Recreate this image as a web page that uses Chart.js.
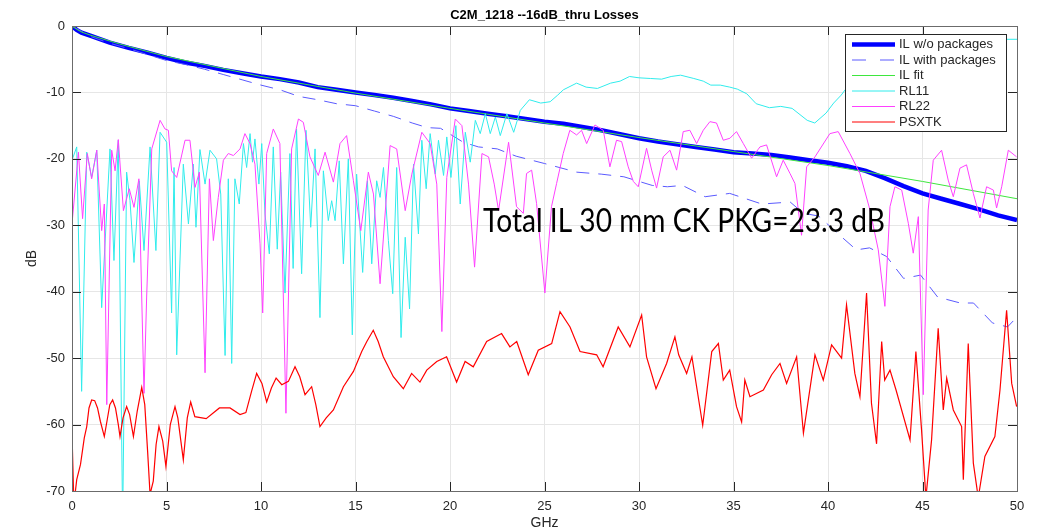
<!DOCTYPE html>
<html lang="en">
<head>
<meta charset="UTF-8">
<title>C2M_1218 --16dB_thru Losses</title>
<script src="https://cdn.jsdelivr.net/npm/chart.js"></script>
<style>
    html, body { margin: 0; padding: 0; background: #fff; }
    .chart-container { width: 1043px; height: 531px; position: relative; }
</style>
</head>
<body>
<div class="chart-container">
    <canvas id="lossChart"></canvas>
</div>
<script>
// ---- data (GHz / dB) ----
const xTickValues = [0, 5, 10, 15, 20, 25, 30, 35, 40, 45, 50];
const yTickValues = [0, -10, -20, -30, -40, -50, -60, -70];

const ilNoPkgGHz = [0, 0.25, 0.5, 1, 2, 3, 4, 5, 6, 7, 8, 9, 10, 11, 12, 13, 14, 15, 16, 17, 18, 19, 20, 21, 22, 23, 24, 25,
    26, 27, 28, 29, 30, 31, 32, 33, 34, 35, 36, 37, 38, 39, 40, 41, 42, 43, 44, 45, 46, 47, 48, 49, 50];
const ilNoPkgDB = [0, -0.6, -1.0, -1.5, -2.5, -3.3, -4.0, -4.8, -5.5, -6.0, -6.6, -7.1, -7.6, -8.0, -8.5, -9.2, -9.6, -10.0,
    -10.4, -10.8, -11.3, -11.8, -12.4, -12.8, -13.2, -13.6, -14.0, -14.4, -14.7, -15.2, -15.7, -16.3, -16.9, -17.4,
    -17.8, -18.2, -18.6, -19.0, -19.2, -19.4, -19.8, -20.2, -20.6, -21.1, -21.8, -22.9, -24.1, -25.2, -26.0, -26.8,
    -27.6, -28.5, -29.2];

const ilPkgGHz = [0, 1, 2, 3, 4, 5, 6, 7, 8, 9, 10, 11, 12, 13, 14, 15, 16, 17, 18, 18.8, 19.5, 20.7, 21.5, 22.5,
    23.5, 25, 26.7, 28, 29.2, 30.7, 31.5, 32.3, 33.5, 34.8, 36.5, 38, 38.7, 39.5, 40.5, 41.5, 42.2, 43.1, 44, 44.9,
    45.8, 47, 47.7, 48.7, 49.5, 50];
const ilPkgDB = [0, -1.6, -2.6, -3.4, -4.3, -5.2, -5.8, -6.5, -7.3, -8.1, -8.9, -9.6, -10.6, -11.1, -11.7, -12.0,
    -12.8, -13.6, -14.6, -15.3, -15.4, -17.5, -18.2, -18.5, -19.6, -20.7, -22.0, -22.3, -22.7, -24.0, -24.2, -24.0,
    -25.7, -25.2, -26.8, -26.5, -28.2, -28.6, -31.2, -33.7, -33.4, -34.7, -38.0, -37.5, -40.8, -41.7, -41.7, -44.7,
    -45.3, -43.8];

const ilFitGHz = [0, 0.25, 0.5, 1, 2.5, 5, 10, 15, 20, 25, 30, 35, 40, 45, 50];
const ilFitDB = [0, -0.5, -0.9, -1.4, -2.7, -4.6, -7.6, -10.1, -12.4, -14.6, -16.8, -18.9, -21.0, -23.4, -26.0];

const rl11GHz = [0, 0.25, 0.51, 0.78, 1.04, 1.31, 1.57, 2.01, 2.22, 2.45, 2.68, 2.89, 3.07, 3.28, 3.56, 3.81, 4.13,
    4.44, 4.66, 5.01, 5.27, 5.4, 5.54, 5.89, 6.16, 6.42, 6.56, 6.77, 7.04, 7.3, 7.65, 7.87, 8.1, 8.27, 8.45, 8.62,
    8.85, 9.07, 9.24, 9.42, 9.55, 9.68, 9.89, 10.04, 10.21, 10.44, 10.65, 10.86, 11.04, 11.27, 11.53, 11.7, 11.88,
    12.15, 12.38, 12.63, 12.86, 13.12, 13.3, 13.56, 13.74, 13.92, 14.14, 14.36, 14.62, 14.83, 15.06, 15.38, 15.63,
    15.86, 16.12, 16.3, 16.48, 16.74, 16.97, 17.18, 17.41, 17.63, 17.86, 18.07, 18.33, 18.51, 18.74, 18.95, 19.22,
    19.39, 19.66, 19.83, 20.05, 20.31, 20.54, 20.81, 21.07, 21.34, 21.6, 21.87, 22.13, 22.4, 22.66, 23.01, 23.37,
    23.72, 24.2, 24.8, 25.3, 25.7, 26.0, 26.7, 27.2, 27.8, 28.5, 29.0, 29.5, 30.0, 30.6, 31.2, 31.7, 32.2, 32.9,
    33.4, 33.8, 34.3, 34.8, 35.2, 35.7, 36.2, 36.9, 37.5, 38.1, 38.9, 39.3, 39.9, 40.3, 40.7, 41.2, 42, 43, 44, 46,
    48, 50];
const rl11DB = [-20.2, -18.2, -55, -19, -22.8, -18.7, -42.4, -18.5, -35.3, -17.2, -75, -22, -26.3, -35.6, -23.3,
    -33.8, -18.2, -33.8, -16, -17.5, -43.2, -21.3, -49.5, -20.8, -29.8, -20.8, -30.3, -18.6, -23.8, -18.7, -20,
    -25.3, -49.6, -23, -50.8, -23, -26.8, -17.7, -21.3, -16.2, -20.5, -17, -23.8, -17.7, -28.3, -34.3, -18.2, -33.6,
    -22, -40.2, -19.2, -36.5, -15.5, -37.3, -15.7, -30.3, -18.5, -43.9, -21.8, -29.3, -26.3, -29.3, -20.3, -35.8,
    -20, -46.5, -22.3, -37.1, -23.3, -35.8, -23.3, -25.8, -21.3, -32.3, -40.3, -21.3, -46.9, -31.8, -42.6, -20.8,
    -31.3, -17.2, -24.5, -16.2, -22.3, -17.2, -22.5, -16.7, -22.8, -15, -26.8, -16, -20.5, -14.2, -16.2, -13.2,
    -16.2, -13.7, -16.5, -13.2, -16, -12.7, -11.1, -11.6, -11.4, -10.4, -9.6, -8.6, -9.2, -9.4, -8.6, -8.3, -7.6,
    -7.8, -7.9, -8.0, -7.6, -7.4, -7.9, -8.3, -8.9, -8.9, -9.2, -9.5, -10.2, -11.7, -12.3, -12.1, -12.4, -14.2,
    -14.6, -13.1, -11.6, -10.4, -8.5, -5.5, -3.5, -2.5, -2.1, -2.0, -2.0];

const rl22GHz = [0, 0.34, 0.56, 0.81, 1.04, 1.31, 1.57, 1.71, 1.84, 2.1, 2.28, 2.45, 2.72, 3.03, 3.28, 3.54, 3.81,
    3.95, 4.22, 4.66, 4.92, 5.1, 5.27, 5.54, 5.98, 6.24, 6.51, 6.74, 7.04, 7.27, 7.48, 7.74, 8.01, 8.27, 8.54, 8.89,
    9.15, 9.42, 9.68, 9.95, 10.09, 10.3, 10.65, 11.0, 11.32, 11.62, 11.98, 12.24, 12.59, 13.03, 13.39, 13.83, 14.18,
    14.53, 14.89, 15.28, 15.68, 15.95, 16.3, 16.83, 17.18, 17.63, 17.98, 18.51, 18.95, 19.3, 19.57, 19.83, 20.28,
    20.63, 20.98, 21.3, 21.69, 22.04, 22.34, 22.57, 23.1, 23.52, 23.88, 24.05, 24.32, 24.58, 25.02, 25.37, 25.64,
    25.99, 26.34, 26.7, 26.96, 27.23, 27.67, 28.11, 28.46, 28.81, 29.08, 29.43, 29.7, 29.96, 30.4, 30.67, 30.93,
    31.28, 31.64, 31.99, 32.34, 32.69, 33.05, 33.4, 33.75, 34.1, 34.46, 34.81, 35.16, 35.52, 35.96, 36.4, 36.75,
    37.28, 37.63, 37.99, 38.25, 38.6, 38.87, 39.31, 40.1, 40.54, 41.16, 41.69, 42.22, 42.66, 43.01, 43.28, 43.54,
    43.9, 44.25, 44.51, 44.78, 45.04, 45.3, 45.57, 46.01, 46.36, 46.63, 46.98, 47.33, 47.69, 48.04, 48.39, 48.75,
    48.92, 49.19, 49.54, 49.98];
const rl22DB = [-29.8, -19, -29, -19.2, -23, -18.7, -30.8, -26.8, -57, -18.7, -21.8, -17.1, -27.8, -24.5, -27.3,
    -23, -55.3, -40.8, -18.5, -14.2, -15.5, -15.7, -21.8, -22.8, -17.2, -17.2, -24.3, -22, -52.2, -23, -32.3, -25.8,
    -20.2, -19.2, -19.5, -18.5, -16.2, -17.7, -20.8, -32.8, -43.2, -19.2, -15.5, -17.7, -58.3, -18.5, -14, -14.5,
    -19.7, -22.5, -19, -23.5, -17.7, -16.5, -23.3, -30.8, -22, -25.3, -38.8, -18, -18.5, -27.8, -22.3, -16, -17.7,
    -23.8, -46, -22.8, -14, -15, -23.8, -36.3, -19.2, -19.7, -23.8, -27.8, -17.5, -27.2, -28.2, -22.2, -21.7, -26.7,
    -40.2, -27.2, -23.7, -19.2, -15.7, -16.4, -15.7, -17.7, -14.9, -15.7, -21.2, -17.2, -17.4, -21.2, -23.4, -24.2,
    -18.4, -21.7, -24.4, -19.7, -18.7, -21.7, -15.9, -15.7, -17.7, -15.7, -14.4, -14.6, -17.2, -16.9, -15.9, -17.7,
    -19.9, -18.2, -17.9, -22.7, -20.2, -22.2, -23.7, -31.5, -21.2, -19.7, -16.2, -15.9, -19.2, -22.2, -27.7, -33.7,
    -42.2, -27.2, -24.2, -24.7, -29.7, -34.2, -28.7, -55.5, -27.7, -20.2, -18.7, -23.2, -25.7, -21.4, -20.9, -25.2,
    -28.9, -24.2, -24.7, -27.4, -24.2, -18.7, -19.7];

const psxtkGHz = [0, 0.1, 0.25, 0.45, 0.65, 0.78, 0.9, 1.04, 1.2, 1.35, 1.5, 1.71, 1.85, 2.0, 2.15, 2.3, 2.45, 2.54,
    2.7, 2.89, 3.05, 3.25, 3.45, 3.69, 3.85, 4.0, 4.13, 4.3, 4.45, 4.6, 4.8, 4.97, 5.2, 5.45, 5.6, 5.89, 6.1, 6.28,
    6.5, 7.1, 7.8, 8.36, 8.89, 9.2, 9.5, 9.77, 10.05, 10.3, 10.55, 10.8, 11.1, 11.45, 11.8, 12.05, 12.33, 12.68,
    12.9, 13.12, 13.45, 13.83, 14.36, 14.89, 15.33, 15.6, 15.94, 16.2, 16.47, 17.0, 17.53, 17.97, 18.41, 18.77,
    19.3, 19.82, 20.35, 20.8, 21.23, 21.94, 22.73, 23.17, 23.53, 24.14, 24.67, 25.38, 25.82, 26.35, 26.88, 27.76,
    28.1, 28.9, 29.52, 30.14, 30.4, 30.9, 31.46, 31.9, 32.1, 32.52, 32.8, 33.37, 33.85, 34.2, 34.46, 34.8, 35.16,
    35.43, 35.6, 35.87, 36.58, 37.02, 37.46, 37.81, 38.34, 38.7, 39.31, 39.75, 40.19, 40.72, 40.98, 41.42, 41.69,
    42.04, 42.3, 42.57, 42.84, 43.0, 43.28, 43.6, 44.34, 44.65, 44.95, 45.18, 45.48, 45.83, 46.1, 46.28, 46.63,
    47.07, 47.16, 47.42, 47.69, 47.95, 48.3, 48.83, 49.1, 49.45, 49.72, 49.98];
const psxtkDB = [-61.3, -72, -68.3, -66, -62, -60.3, -57.5, -56.3, -56.4, -57.5, -59.5, -61.8, -59.5, -57, -56.3,
    -57.5, -60, -61.8, -59, -57.3, -58.5, -61.8, -58, -54.4, -57, -64, -70.5, -68.5, -63, -60.3, -62.5, -66.3, -60,
    -57.3, -59, -65.3, -59, -56.6, -58.8, -59.1, -57.5, -57.5, -58.5, -58.2, -55, -52.3, -53.8, -56.6, -54.5, -53,
    -54, -53.5, -51.3, -52.8, -55.5, -54.3, -57, -60.3, -59, -57.8, -54.3, -52, -49, -47.5, -45.8, -47.5, -49.8,
    -52.8, -54.6, -52.3, -53.6, -51.8, -50.5, -49.8, -53.6, -50.5, -51.3, -47.5, -46.3, -48.3, -47.5, -52.5, -48.8,
    -47.8, -43, -45.3, -49, -49.5, -51.3, -45.3, -48.3, -43.5, -49.8, -54.6, -50.8, -46.8, -49.5, -52.3, -49.8,
    -60.1, -49, -47.8, -53.3, -51.8, -57.3, -59.6, -53.3, -55.8, -54.8, -52.5, -50.8, -53.8, -49.8, -61.3, -49.5,
    -53.3, -48, -50, -42, -52.3, -55.8, -40.2, -56.8, -62.9, -47.5, -53.3, -51.8, -54.8, -62.3, -49, -60.8, -71,
    -62.3, -45.5, -57.8, -53, -57.8, -60.3, -68.3, -47.8, -65.8, -71, -64.8, -61.8, -54.8, -42.8, -53.8, -57.3];

const seriesNames = ['IL w/o packages', 'IL with packages', 'IL fit', 'RL11', 'RL22', 'PSXTK'];
const titleText = 'C2M_1218 --16dB_thru Losses';
const noteText = 'Total IL 30 mm CK PKG=23.3 dB';

function pairs(xs, ys) {
    return xs.map((x, i) => ({ x: x, y: ys[i] }));
}

const axisColor = '#262626';
const gridColor = '#e6e6e6';

const seriesStyles = [
    { color: '#0000ff', width: 4.5, dash: [] },
    { color: '#5a5aff', width: 1, dash: [13, 9] },
    { color: '#3ee63e', width: 1, dash: [] },
    { color: '#30ecec', width: 1, dash: [] },
    { color: '#ff40ff', width: 1, dash: [] },
    { color: '#ff0000', width: 1.2, dash: [] }
];

const seriesData = [
    pairs(ilNoPkgGHz, ilNoPkgDB),
    pairs(ilPkgGHz, ilPkgDB),
    pairs(ilFitGHz, ilFitDB),
    pairs(rl11GHz, rl11DB),
    pairs(rl22GHz, rl22DB),
    pairs(psxtkGHz, psxtkDB)
];

// matlab-ish frame, labels, note and legend drawn on the canvas
const matlabFrame = {
    id: 'matlabFrame',
    afterDatasetsDraw(chart) {
        const ctx = chart.ctx;
        const a = chart.chartArea;
        const xs = chart.scales.x, ys = chart.scales.y;
        ctx.save();
        ctx.strokeStyle = axisColor;
        ctx.lineWidth = 1;
        ctx.beginPath();
        xTickValues.forEach(v => {
            const px = Math.round(xs.getPixelForValue(v)) + 0.5;
            ctx.moveTo(px, a.bottom); ctx.lineTo(px, a.bottom - 9);
            ctx.moveTo(px, a.top); ctx.lineTo(px, a.top + 9);
        });
        yTickValues.forEach(v => {
            const py = Math.round(ys.getPixelForValue(v)) + 0.5;
            ctx.moveTo(a.left, py); ctx.lineTo(a.left + 9, py);
            ctx.moveTo(a.right, py); ctx.lineTo(a.right - 9, py);
        });
        ctx.stroke();
        ctx.strokeStyle = '#6b6b6b';
        ctx.strokeRect(Math.round(a.left) + 0.5, Math.round(a.top) + 0.5,
            Math.round(a.right - a.left), Math.round(a.bottom - a.top));
        ctx.restore();
    },
    afterDraw(chart) {
        const ctx = chart.ctx;
        const a = chart.chartArea;
        ctx.save();
        ctx.fillStyle = '#000';
        ctx.textAlign = 'center';
        ctx.textBaseline = 'middle';
        ctx.font = 'bold 13px "Liberation Sans", Arial, sans-serif';
        ctx.fillText(titleText, (a.left + a.right) / 2, 15);

        ctx.fillStyle = axisColor;
        ctx.font = '14px "Liberation Sans", Arial, sans-serif';
        ctx.fillText('GHz', (a.left + a.right) / 2, 523);
        ctx.save();
        ctx.translate(32, (a.top + a.bottom) / 2);
        ctx.rotate(-Math.PI / 2);
        ctx.fillText('dB', 0, 0);
        ctx.restore();

        // big note, fitted to the width it has in the picture
        ctx.fillStyle = '#000';
        ctx.font = '32px Lato, "Open Sans", sans-serif';
        ctx.textAlign = 'left';
        ctx.textBaseline = 'alphabetic';
        const w = ctx.measureText(noteText).width;
        ctx.save();
        ctx.translate(483, 232);
        ctx.scale(402 / w, 1);
        ctx.fillText(noteText, 0, 0);
        ctx.restore();

        // legend box
        const bx = 845.5, by = 34.5, bw = 161, bh = 97;
        ctx.fillStyle = '#fff';
        ctx.fillRect(bx, by, bw, bh);
        ctx.strokeStyle = '#262626';
        ctx.lineWidth = 1;
        ctx.strokeRect(bx, by, bw, bh);
        ctx.font = '13px "Liberation Sans", Arial, sans-serif';
        ctx.textBaseline = 'middle';
        seriesNames.forEach((name, i) => {
            const y = 44.5 + i * 15.5;
            const s = seriesStyles[i];
            ctx.strokeStyle = s.color;
            ctx.lineWidth = s.width;
            ctx.setLineDash(s.dash.length ? [14, 14] : []);
            ctx.beginPath();
            ctx.moveTo(852, y); ctx.lineTo(895, y);
            ctx.stroke();
            ctx.setLineDash([]);
            ctx.fillStyle = axisColor;
            ctx.fillText(name, 899, y);
        });
        ctx.restore();
    }
};

const ctx = document.getElementById('lossChart').getContext('2d');
const chart = new Chart(ctx, {
    type: 'line',
    data: {
        datasets: seriesNames.map((name, i) => ({
            label: name,
            data: seriesData[i],
            borderColor: seriesStyles[i].color,
            borderWidth: seriesStyles[i].width,
            borderDash: seriesStyles[i].dash,
            pointRadius: 0,
            tension: 0,
            fill: false,
            order: seriesNames.length - i
        }))
    },
    options: {
        responsive: true,
        maintainAspectRatio: false,
        animation: false,
        events: [],
        layout: { padding: { top: 26, right: 26, left: 0, bottom: 0 } },
        plugins: {
            legend: { display: false },
            title: { display: false },
            tooltip: { enabled: false }
        },
        scales: {
            x: {
                type: 'linear',
                min: 0,
                max: 50,
                afterBuildTicks: s => { s.ticks = xTickValues.map(v => ({ value: v })); },
                afterFit: s => { s.height = 40; },
                grid: { color: gridColor, drawTicks: false },
                border: { display: false },
                ticks: { color: axisColor, font: { family: '"Liberation Sans", Arial, sans-serif', size: 13 }, padding: 8, maxRotation: 0 }
            },
            y: {
                type: 'linear',
                min: -70,
                max: 0,
                afterBuildTicks: s => { s.ticks = yTickValues.map(v => ({ value: v })); },
                afterFit: s => { s.width = 72; },
                grid: { color: gridColor, drawTicks: false },
                border: { display: false },
                ticks: { color: axisColor, font: { family: '"Liberation Sans", Arial, sans-serif', size: 13 }, padding: 7 }
            }
        }
    },
    plugins: [matlabFrame]
});
</script>
</body>
</html>
